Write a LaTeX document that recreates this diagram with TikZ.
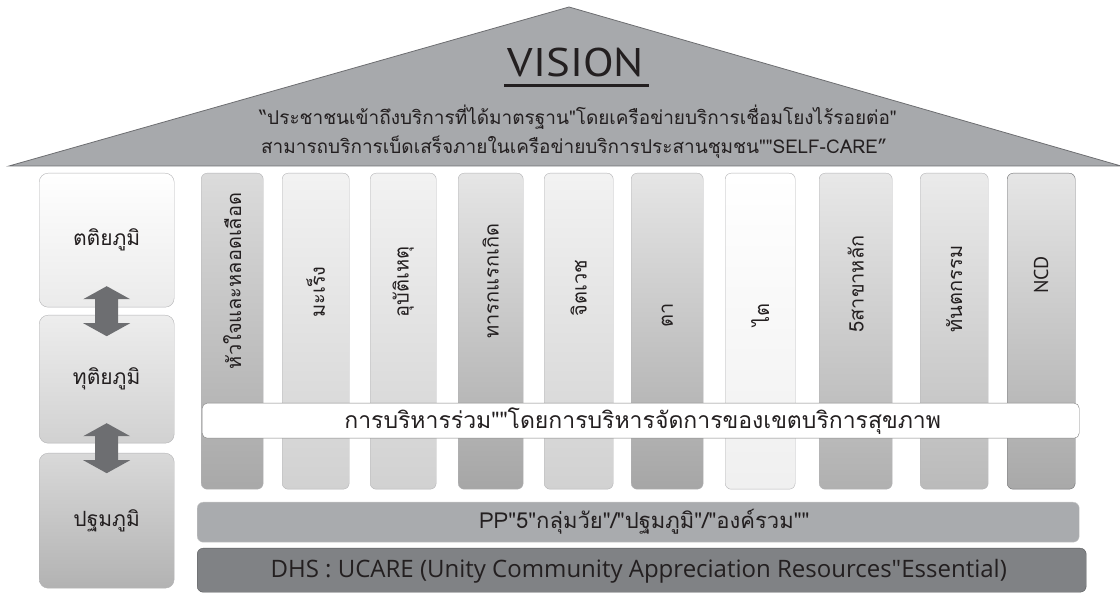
\documentclass[tikz,border=0pt]{standalone}
\usepackage{fontspec}
\setmainfont{PT Sans}
\newfontfamily\thai[Script=Thai]{Loma}
\newfontfamily\latin{Open Sans}
\usetikzlibrary{calc}
\definecolor{roofc}{HTML}{A7A9AC}
\definecolor{roofline}{HTML}{6D6E71}
\definecolor{ink}{HTML}{231F20}
\definecolor{pborder}{HTML}{B3B3B5}
\definecolor{arrowc}{HTML}{6D6E71}
\definecolor{ppc}{HTML}{A9ABAE}
\definecolor{dhsc}{HTML}{808285}
\definecolor{dhsline}{HTML}{58595B}
\begin{document}
\begin{tikzpicture}[x=1pt,y=-1pt,
  lvl/.style={draw=pborder, rounded corners=9pt, anchor=north west, minimum width=135pt, minimum height=134pt, inner sep=0pt},
  lvltext/.style={font=\thai\fontsize{21}{24}\selectfont, text=ink},
  pillar/.style={draw=pborder, rounded corners=6pt, anchor=north west, minimum height=316pt, inner sep=0pt},
  ptext/.style={font=\thai\fontsize{20}{23}\selectfont, text=ink, rotate=90, inner sep=0pt},
  bar/.style={rounded corners=6pt, anchor=north west, inner sep=0pt}]
\useasboundingbox (0,0) rectangle (1120,593);
% roof
\draw[fill=roofc, draw=roofline, line width=0.8pt] (9,166) -- (569,7) -- (1121,166) -- cycle;
\node[font=\fontsize{40}{44}\selectfont, text=ink, inner sep=0pt, xscale=1.12] (vis) at (576,63) {VISION};
\draw[ink, line width=3pt] (504,86) -- (649,86);
\node[font=\thai\fontsize{19}{22}\selectfont, text=ink, inner sep=0pt] (v1) at (578,117) {“ประชาชนเข้าถึงบริการที่ได้มาตรฐาน"โดยเครือข่ายบริการเชื่อมโยงไร้รอยต่อ"};
\node[font=\thai\fontsize{19}{22}\selectfont, text=ink, inner sep=0pt] (v2) at (574,147) {สามารถบริการเบ็ดเสร็จภายในเครือข่ายบริการประสานชุมชน""SELF-CARE”};
% left levels
\node[lvl, top color=white, bottom color=black!8, minimum height=134pt] (l3) at (39,173) {};
\node[lvl, top color=black!7, bottom color=black!18, minimum height=128pt] (l2) at (39,315) {};
\node[lvl, top color=black!15, bottom color=black!30, minimum height=135pt] (l1) at (39,453) {};
\node[lvltext] at (l3.center) {ตติยภูมิ};
\node[lvltext] at (l2.center) {ทุติยภูมิ};
\node[lvltext] at (l1.center) {ปฐมภูมิ};
% double arrows
\coordinate (a1) at ($(l3.south)!0.5!(l2.north)$);
\coordinate (a2) at ($(l2.south)!0.5!(l1.north)$);
\foreach \a in {a1,a2}{
  \fill[arrowc] ([shift={(0,-25)}]\a) -- ([shift={(23.5,-12)}]\a) -- ([shift={(11.5,-12)}]\a) -- ([shift={(11.5,12)}]\a) -- ([shift={(23.5,12)}]\a) -- ([shift={(0,25)}]\a) -- ([shift={(-23.5,12)}]\a) -- ([shift={(-11.5,12)}]\a) -- ([shift={(-11.5,-12)}]\a) -- ([shift={(-23.5,-12)}]\a) -- cycle;
}
% pillars
\foreach \n/\xl/\w/\tc/\bc/\ty/\txt in {
  1/201/62/black!14/black!34/281/{หัวใจและหลอดเลือด},
  2/282/67/black!5/black!18/292/{มะเร็ง},
  3/370/66/black!5/black!18/282/{อุบัติเหตุ},
  4/458/65/black!10/black!35/281/{ทารกแรกเกิด},
  5/544/69/black!5/black!18/288/{จิตเวช},
  6/631/72/black!10/black!35/315/{ตา},
  7/725/70/white/black!6/315/{ไต},
  8/819/73/black!9/black!31/284/{5สาขาหลัก},
  9/920/68/black!8/black!27/289/{ทันตกรรม}}{
  \node[pillar, top color=\tc, bottom color=\bc, minimum width=\w pt] (p\n) at (\xl,173) {};
  \path (p\n.north) ++(0,\ty-173) node[ptext] {\txt};
}
\node[pillar, draw=roofline, top color=black!10, bottom color=black!34, minimum width=68pt] (p10) at (1007,173) {};
\path (p10.north) ++(0,102) node[ptext, font=\fontsize{20}{23}\selectfont] {NCD};
% band
\node[bar, draw=black!50, fill=white, minimum width=877pt, minimum height=35pt, rounded corners=5pt] (band) at (202,403) {};
\node[font=\thai\fontsize{23}{26}\selectfont, text=ink, inner sep=0pt] at ($(band.center)+(2,0)$) {การบริหารร่วม""โดยการบริหารจัดการของเขตบริการสุขภาพ};
% PP bar
\node[bar, draw=black!22, fill=ppc, minimum width=882pt, minimum height=40pt] (pp) at (197,502) {};
\node[font=\thai\fontsize{22}{25}\selectfont, text=ink, inner sep=0pt] at ($(pp.center)+(6,0)$) {PP"5"กลุ่มวัย"/"ปฐมภูมิ"/"องค์รวม""};
% DHS bar
\node[bar, draw=dhsline, fill=dhsc, minimum width=889pt, minimum height=44pt] (dhs) at (197,548) {};
\node[font=\latin\fontsize{24}{28}\selectfont, text=ink, inner sep=0pt] at ($(dhs.center)+(-3,1)$) {DHS : UCARE (Unity Community Appreciation Resources"Essential)};
\end{tikzpicture}
\end{document}
